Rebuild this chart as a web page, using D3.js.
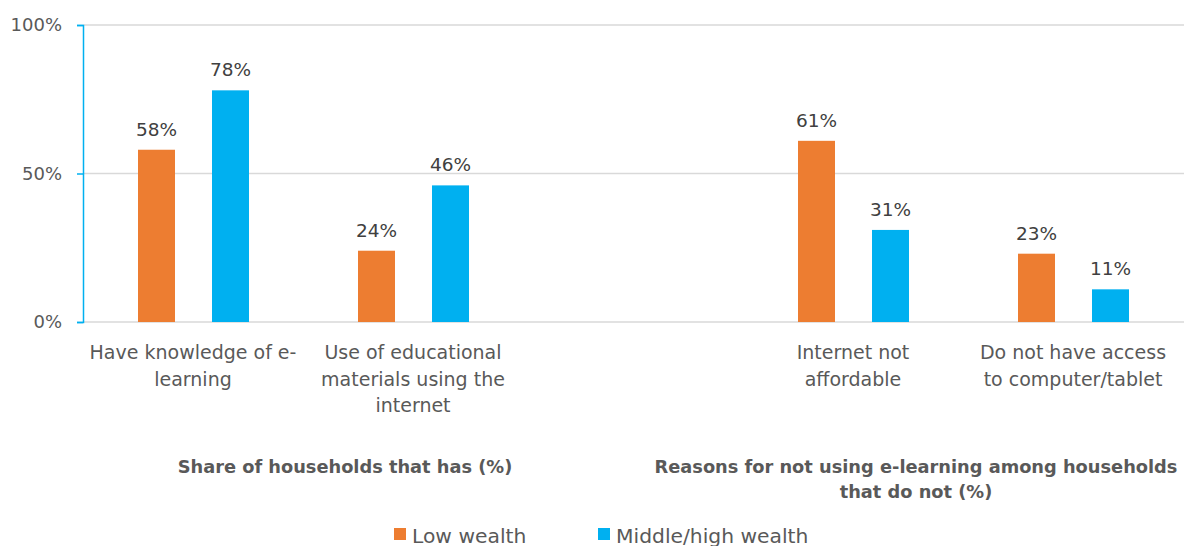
<!DOCTYPE html>
<html>
<head>
<meta charset="utf-8">
<script src="https://cdn.jsdelivr.net/npm/d3@7"></script>
<style>
  html, body { margin: 0; padding: 0; background: #fff; }
  svg { display: block; font-family: "DejaVu Sans", sans-serif; }
</style>
</head>
<body>
<svg id="chart" width="1184" height="546"></svg>
<script>
// Categories (an empty slot separates the two panels)
const categories = ["knowledge", "materials", "gap", "affordable", "access"];
const categoryLabels = [
  ["Have knowledge of e-", "learning"],
  ["Use of educational", "materials using the", "internet"],
  [],
  ["Internet not", "affordable"],
  ["Do not have access", "to computer/tablet"]
];
const seriesNames = ["Low wealth", "Middle/high wealth"];
const lowWealth = [58, 24, null, 61, 23];
const midHighWealth = [78, 46, null, 31, 11];
const yTicks = [0, 50, 100];
const colors = ["#ED7D31", "#00B0F0"];

const svg = d3.select("#chart");
const margin = { left: 83, right: 1 };
const W = 1184;

const x = d3.scaleBand().domain(categories)
  .range([margin.left, W - margin.right]).paddingInner(0).paddingOuter(0);
const y = d3.scaleLinear().domain([0, 100]).range([322, 25]);

// Horizontal gridlines
svg.append("g").selectAll("line").data(yTicks).join("line")
  .attr("x1", margin.left).attr("x2", W)
  .attr("y1", d => y(d)).attr("y2", d => y(d))
  .attr("stroke", "#d9d9d9").attr("stroke-width", 1.5);

// Y axis
const yAxis = d3.axisLeft(y).tickValues(yTicks).tickFormat(d => d + "%").tickSize(6).tickPadding(15);
const ga = svg.append("g").attr("transform", `translate(${margin.left},0)`).call(yAxis);
ga.select(".domain").attr("stroke", "#00B0F0").attr("stroke-width", 1.5);
ga.selectAll(".tick line").attr("stroke", "#00B0F0").attr("stroke-width", 1.5);
ga.selectAll(".tick text").attr("fill", "#595959").style("font-size", "18px")
  .style("font-family", "'DejaVu Sans', sans-serif");

// Bars
const xs = d3.scaleBand().domain([0, 1]).range([55, 166]).paddingInner(0.5);
const seriesData = [lowWealth, midHighWealth];
seriesData.forEach((vals, si) => {
  const data = categories.map((c, i) => ({ c, v: vals[i] })).filter(d => d.v != null);
  const g = svg.append("g");
  g.selectAll("rect").data(data).join("rect")
    .attr("x", d => x(d.c) + xs(si))
    .attr("width", xs.bandwidth())
    .attr("y", d => y(d.v))
    .attr("height", d => y(0) - y(d.v))
    .attr("fill", colors[si]);
  g.selectAll("text").data(data).join("text")
    .attr("x", d => x(d.c) + xs(si) + xs.bandwidth() / 2)
    .attr("y", d => y(d.v) - 14)
    .attr("text-anchor", "middle")
    .attr("fill", "#404040")
    .style("font-size", "18.5px")
    .text(d => d.v + "%");
});

// Category labels
categories.forEach((c, i) => {
  const t = svg.append("text")
    .attr("text-anchor", "middle")
    .attr("fill", "#595959")
    .style("font-size", "19px");
  categoryLabels[i].forEach((line, li) => {
    t.append("tspan").attr("x", x(c) + x.bandwidth() / 2)
      .attr("y", 359 + li * 26.5).text(line);
  });
});

// Panel titles
const titles = [
  { lines: ["Share of households that has (%)"], cx: 345 },
  { lines: ["Reasons for not using e-learning among households", "that do not (%)"], cx: 916 }
];
titles.forEach(tt => {
  const t = svg.append("text").attr("text-anchor", "middle")
    .attr("fill", "#595959").style("font-size", "17.8px").style("font-weight", "bold");
  tt.lines.forEach((line, li) => {
    t.append("tspan").attr("x", tt.cx).attr("y", 473 + li * 25).text(line);
  });
});

// Legend
const legendX = [394, 598];
seriesNames.forEach((name, i) => {
  const g = svg.append("g").attr("transform", `translate(${legendX[i]},0)`);
  g.append("rect").attr("x", 0).attr("y", 528).attr("width", 12).attr("height", 12).attr("fill", colors[i]);
  g.append("text").attr("x", 18).attr("y", 543).attr("fill", "#595959")
    .style("font-size", "20.3px").text(name);
});
</script>
</body>
</html>
